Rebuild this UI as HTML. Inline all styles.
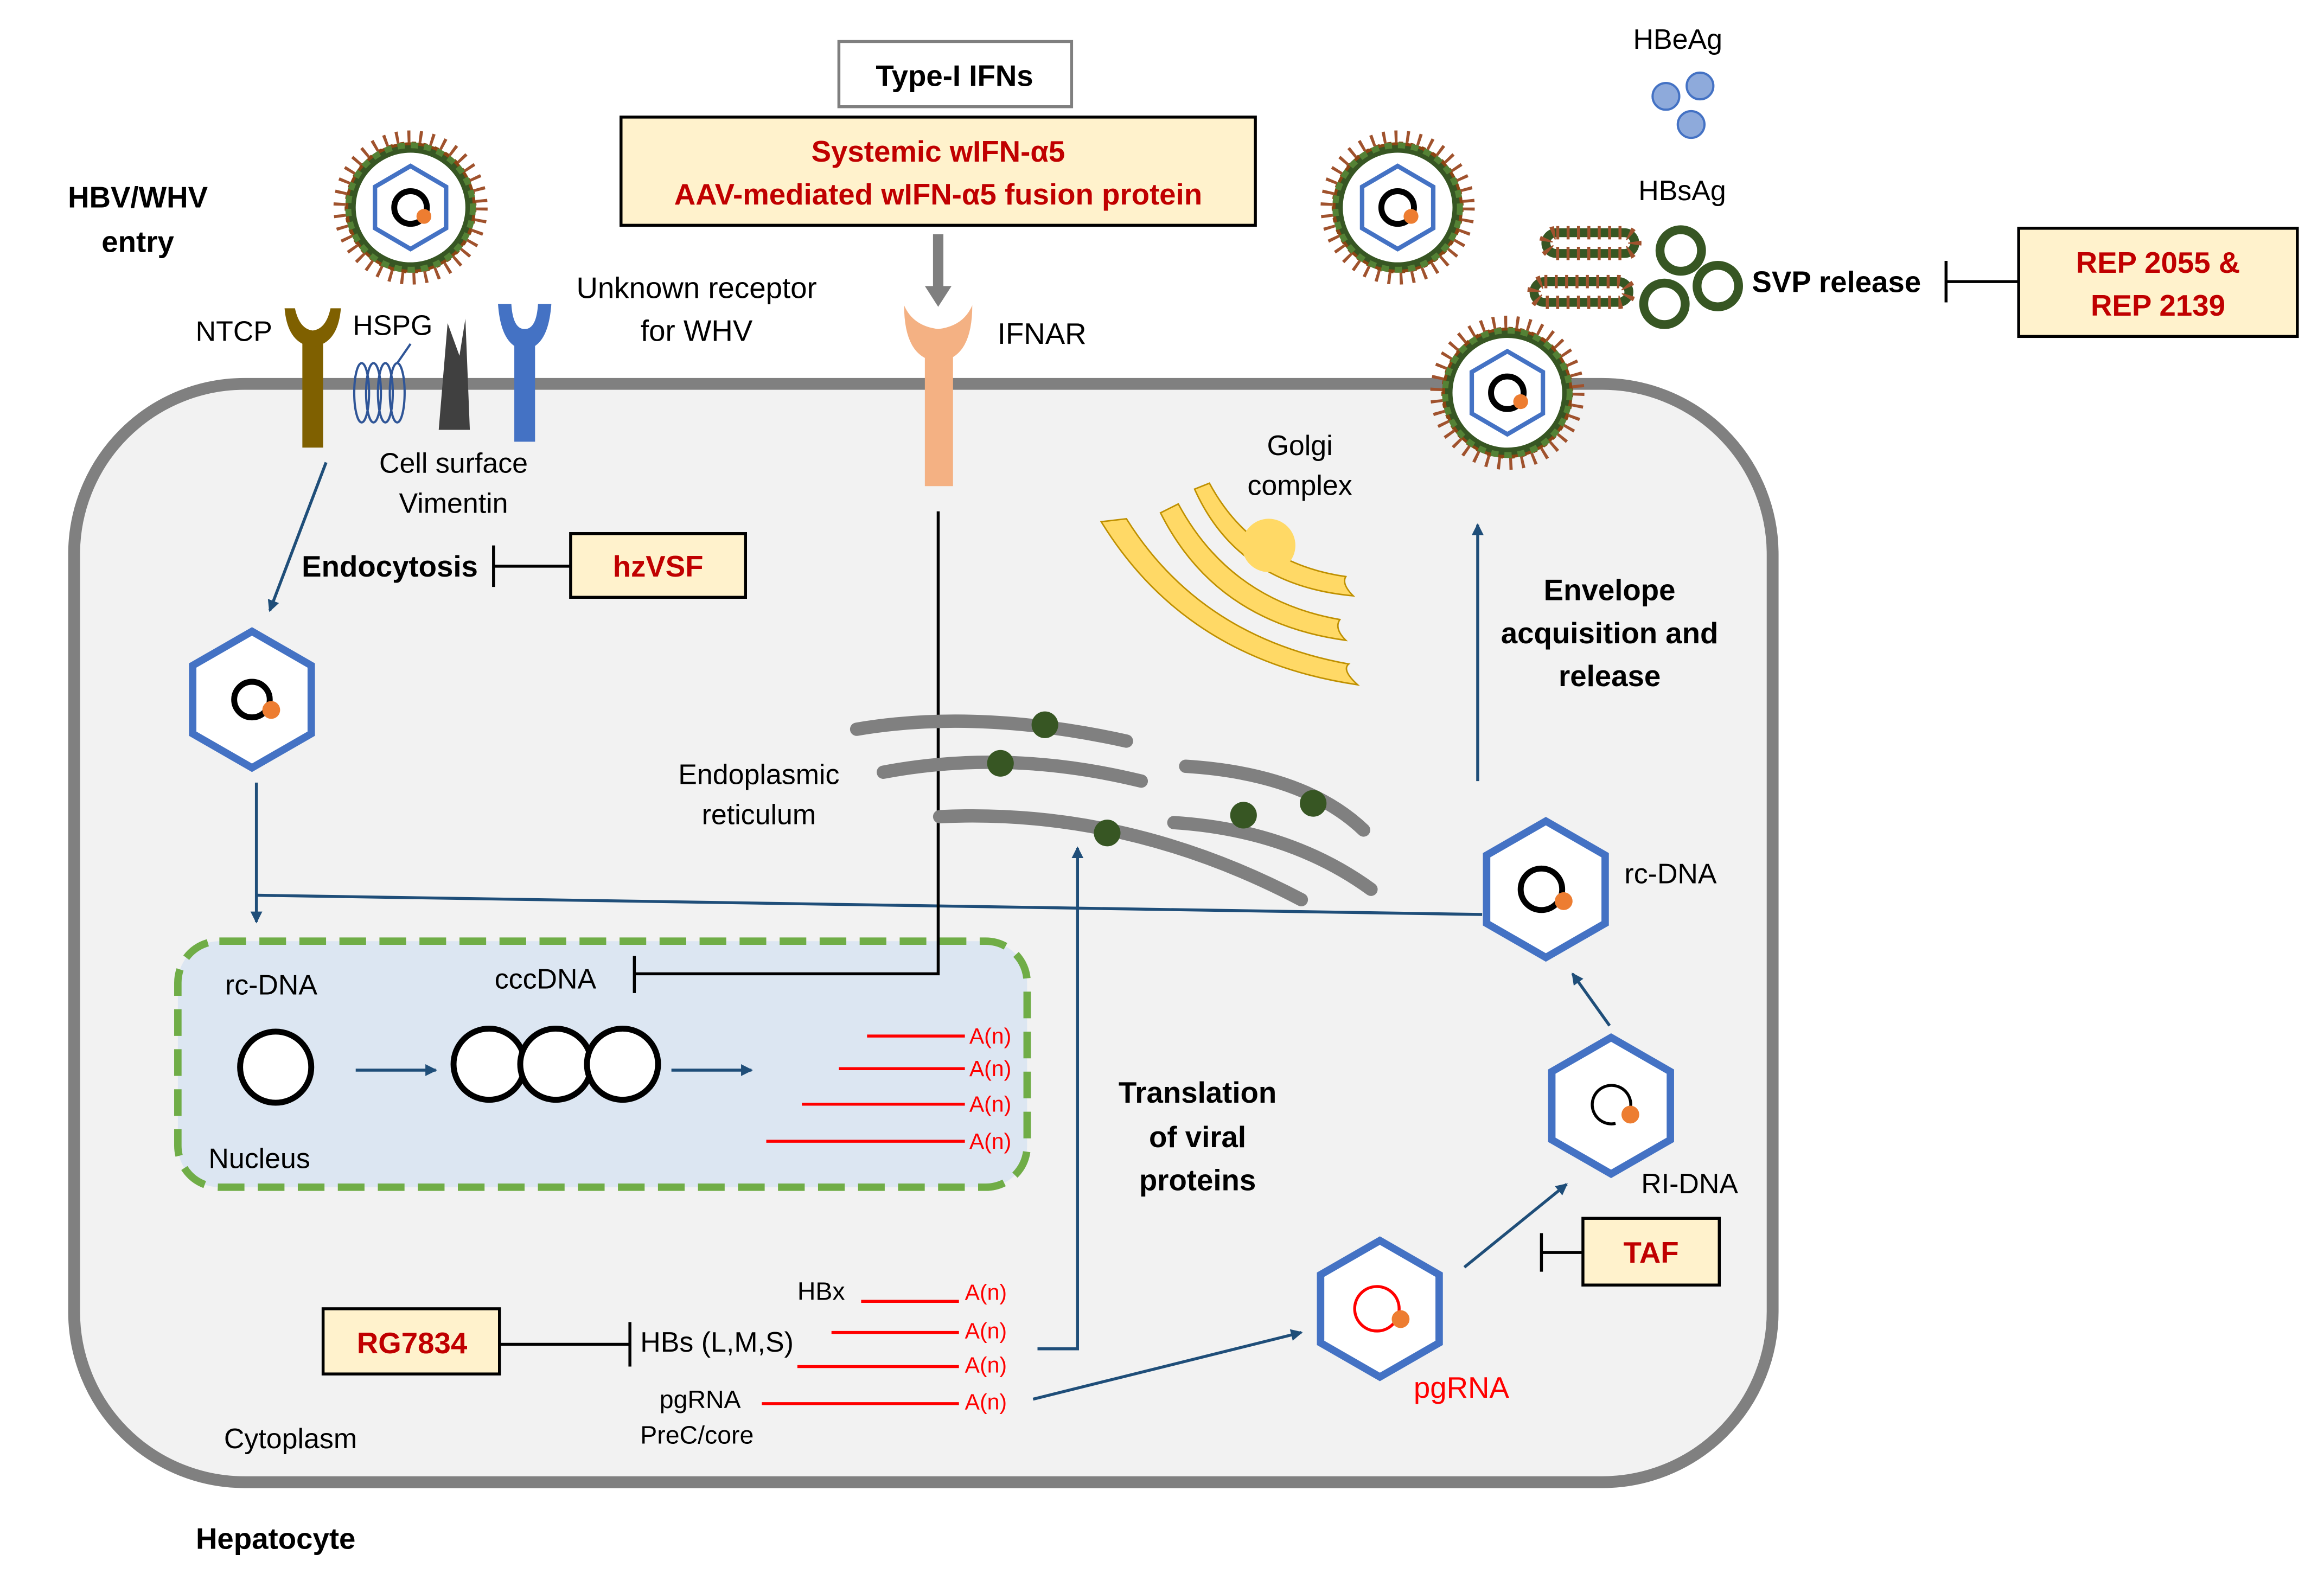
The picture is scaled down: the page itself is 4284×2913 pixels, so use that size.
<!DOCTYPE html>
<html><head><meta charset="utf-8"><style>
html,body{margin:0;padding:0;background:#fff;}
svg{display:block;}
text{font-family:"Liberation Sans",sans-serif;}
</style></head><body>
<svg width="4284" height="2913" viewBox="0 0 1568 1066" preserveAspectRatio="none" xmlns="http://www.w3.org/2000/svg">
<defs>
<marker id="ar" markerWidth="8" markerHeight="8" refX="7" refY="4" orient="auto" markerUnits="userSpaceOnUse"><path d="M0,0 L8,4 L0,8 z" fill="#1f4e79"/></marker>
<g id="vir">
<circle r="44" fill="#8b4513" stroke="#8b4513" stroke-width="1" stroke-dasharray="3 5"/>
<circle r="48" fill="none" stroke="#a0522d" stroke-width="8" stroke-dasharray="2 6"/>
<circle r="42" fill="#375623"/>
<circle r="42" fill="none" stroke="#548235" stroke-width="4" stroke-dasharray="5 4"/>
<circle r="37" fill="#fff"/>
<polygon points="0,-28 24,-14 24,14 0,28 -24,14 -24,-14" fill="#fff" stroke="#4472c4" stroke-width="3"/>
<circle r="11" fill="none" stroke="#000" stroke-width="4"/>
<circle cx="9" cy="6" r="5" fill="#ed7d31"/>
</g>
<g id="hex">
<polygon points="0,-46 40,-23 40,23 0,46 -40,23 -40,-23" fill="#fff" stroke="#4472c4" stroke-width="5"/>
</g>
</defs>
<rect width="1568" height="1066" fill="#fff"/>
<rect x="50" y="259" width="1146" height="741" rx="115" fill="#f2f2f2" stroke="#808080" stroke-width="8"/>
<rect x="120" y="635" width="573" height="166" rx="28" fill="#dce6f2" stroke="#70ad47" stroke-width="5" stroke-dasharray="18 9"/>

<rect x="566" y="28" width="157" height="44" fill="#fff" stroke="#7f7f7f" stroke-width="2"/>
<text x="644" y="58" font-size="20" font-weight="bold" text-anchor="middle">Type-I IFNs</text>
<rect x="419" y="79" width="428" height="73" fill="#fff2cc" stroke="#000" stroke-width="2"/>
<text x="633" y="109" font-size="20" font-weight="bold" fill="#c00000" text-anchor="middle">Systemic wIFN-α5</text>
<text x="633" y="138" font-size="20" font-weight="bold" fill="#c00000" text-anchor="middle">AAV-mediated wIFN-α5 fusion protein</text>
<path d="M633,158 V195" stroke="#7f7f7f" stroke-width="7"/>
<path d="M624,193 L642,193 L633,207 z" fill="#7f7f7f"/>

<rect x="1362" y="154" width="188" height="73" fill="#fff2cc" stroke="#000" stroke-width="2"/>
<text x="1456" y="184" font-size="20" font-weight="bold" fill="#c00000" text-anchor="middle">REP 2055 &amp;</text>
<text x="1456" y="213" font-size="20" font-weight="bold" fill="#c00000" text-anchor="middle">REP 2139</text>
<path d="M1313,190 H1362 M1313,176 V204" stroke="#000" stroke-width="2"/>
<text x="1182" y="197" font-size="20" font-weight="bold">SVP release</text>

<text x="1132" y="33" font-size="19" text-anchor="middle">HBeAg</text>
<circle cx="1124" cy="65" r="9" fill="#8eaadb" stroke="#4472c4" stroke-width="1.5"/>
<circle cx="1147" cy="58" r="9" fill="#8eaadb" stroke="#4472c4" stroke-width="1.5"/>
<circle cx="1141" cy="84" r="9" fill="#8eaadb" stroke="#4472c4" stroke-width="1.5"/>
<text x="1135" y="135" font-size="19" text-anchor="middle">HBsAg</text>
<g stroke-width="6" fill="none">
<rect x="1043" y="157" width="60" height="14" rx="7" stroke="#375623"/>
<rect x="1043" y="157" width="60" height="14" rx="7" stroke="#a0522d" stroke-dasharray="2 5" stroke-width="9"/>
<rect x="1035" y="190" width="64" height="14" rx="7" stroke="#375623"/>
<rect x="1035" y="190" width="64" height="14" rx="7" stroke="#a0522d" stroke-dasharray="2 5" stroke-width="9"/>
<circle cx="1134" cy="169" r="14" stroke="#375623"/>
<circle cx="1159" cy="193" r="14" stroke="#375623"/>
<circle cx="1123" cy="205" r="14" stroke="#375623"/>
</g>

<use href="#vir" x="277" y="140"/>
<use href="#vir" x="943" y="140"/>
<use href="#vir" x="1017" y="265"/>

<text x="93" y="140" font-size="20" font-weight="bold" text-anchor="middle">HBV/WHV</text>
<text x="93" y="170" font-size="20" font-weight="bold" text-anchor="middle">entry</text>
<text x="132" y="230" font-size="19">NTCP</text>
<text x="238" y="226" font-size="19">HSPG</text>
<text x="470" y="201" font-size="20" text-anchor="middle">Unknown receptor</text>
<text x="470" y="230" font-size="20" text-anchor="middle">for WHV</text>
<text x="306" y="319" font-size="19" text-anchor="middle">Cell surface</text>
<text x="306" y="346" font-size="19" text-anchor="middle">Vimentin</text>
<path d="M204,230 H218 V302 H204 z" fill="#7f6000"/>
<path d="M192,208 Q194,232 211,234 Q228,232 230,208 L223,208 Q220,222 211,223 Q202,222 199,208 z" fill="#7f6000"/>
<g fill="none" stroke="#2f5597" stroke-width="1.5">
<ellipse cx="244" cy="265" rx="5" ry="20"/><ellipse cx="252" cy="265" rx="5" ry="20"/><ellipse cx="260" cy="265" rx="5" ry="20"/><ellipse cx="268" cy="265" rx="5" ry="20"/>
<path d="M268,245 L277,232"/>
</g>
<path d="M296,290 L302,218 L310,240 L314,215 L317,290 z" fill="#404040"/>
<path d="M347,232 H361 V298 H347 z" fill="#4472c4"/>
<path d="M336,205 Q338,234 354,236 Q370,234 372,205 L363,205 Q362,222 354,222 Q346,222 345,205 z" fill="#4472c4"/>
<path d="M624,235 H643 V328 H624 z" fill="#f4b183"/>
<path d="M610,206 Q610,242 633,244 Q656,242 656,206 Q650,220 633,222 Q616,220 610,206 z" fill="#f4b183"/>
<text x="673" y="232" font-size="20">IFNAR</text>

<path d="M220,312 L182,412" stroke="#1f4e79" stroke-width="2" marker-end="url(#ar)"/>
<text x="263" y="389" font-size="20" font-weight="bold" text-anchor="middle">Endocytosis</text>
<path d="M333,382 H385 M333,368 V396" stroke="#000" stroke-width="2"/>
<rect x="385" y="360" width="118" height="43" fill="#fff2cc" stroke="#000" stroke-width="2"/>
<text x="444" y="389" font-size="20" font-weight="bold" fill="#c00000" text-anchor="middle">hzVSF</text>

<use href="#hex" x="170" y="472"/>
<circle cx="170" cy="472" r="12" fill="none" stroke="#000" stroke-width="4"/><circle cx="183" cy="479" r="6" fill="#ed7d31"/>
<path d="M173,528 V622" stroke="#1f4e79" stroke-width="2" marker-end="url(#ar)"/>
<path d="M173,604 L1000,617" stroke="#1f4e79" stroke-width="2"/>

<path d="M633,345 V657 H428 M428,645 V670" stroke="#000" stroke-width="2" fill="none"/>

<text x="183" y="671" font-size="19" text-anchor="middle">rc-DNA</text>
<text x="368" y="667" font-size="19" text-anchor="middle">cccDNA</text>
<circle cx="186" cy="720" r="24" fill="#fff" stroke="#000" stroke-width="4"/>
<path d="M240,722 H294" stroke="#1f4e79" stroke-width="2" marker-end="url(#ar)"/>
<circle cx="330" cy="718" r="24" fill="#fff" stroke="#000" stroke-width="4"/>
<circle cx="375" cy="718" r="24" fill="#fff" stroke="#000" stroke-width="4"/>
<circle cx="420" cy="718" r="24" fill="#fff" stroke="#000" stroke-width="4"/>
<path d="M453,722 H507" stroke="#1f4e79" stroke-width="2" marker-end="url(#ar)"/>
<text x="175" y="788" font-size="19" text-anchor="middle">Nucleus</text>
<g stroke="#ff0000" stroke-width="2">
<path d="M585,699 H651 M566,721 H651 M541,745 H651 M517,770 H651"/>
</g>
<g fill="#ff0000" font-size="15">
<text x="654" y="704">A(n)</text><text x="654" y="726">A(n)</text><text x="654" y="750">A(n)</text><text x="654" y="775">A(n)</text>
</g>

<g fill="none" stroke="#808080" stroke-width="9" stroke-linecap="round">
<path d="M578,492 Q660,478 760,500"/>
<path d="M596,521 Q680,505 770,527"/>
<path d="M634,551 Q760,545 878,607"/>
<path d="M800,517 Q880,522 920,560"/>
<path d="M792,555 Q870,560 925,600"/>
</g>
<g fill="#375623"><circle cx="705" cy="489" r="9"/><circle cx="675" cy="515" r="9"/><circle cx="747" cy="562" r="9"/><circle cx="839" cy="550" r="9"/><circle cx="886" cy="542" r="9"/></g>
<text x="512" y="529" font-size="19" text-anchor="middle">Endoplasmic</text>
<text x="512" y="556" font-size="19" text-anchor="middle">reticulum</text>

<g fill="#ffd966" stroke="#bf9000" stroke-width="1">
<path d="M743,352 Q800,445 916,462 Q905,452 910,448 Q810,430 760,350 z"/>
<path d="M783,346 Q820,420 908,432 Q900,424 904,418 Q830,405 795,340 z"/>
<path d="M806,330 Q835,395 913,402 Q905,394 908,389 Q845,380 816,326 z"/>
</g>
<circle cx="856" cy="368" r="18" fill="#ffd966"/>
<text x="877" y="307" font-size="19" text-anchor="middle">Golgi</text>
<text x="877" y="334" font-size="19" text-anchor="middle">complex</text>

<path d="M997,527 V354" stroke="#1f4e79" stroke-width="2" marker-end="url(#ar)"/>
<text x="1086" y="405" font-size="20" font-weight="bold" text-anchor="middle">Envelope</text>
<text x="1086" y="434" font-size="20" font-weight="bold" text-anchor="middle">acquisition  and</text>
<text x="1086" y="463" font-size="20" font-weight="bold" text-anchor="middle">release</text>

<use href="#hex" x="1043" y="600"/>
<circle cx="1040" cy="600" r="14" fill="none" stroke="#000" stroke-width="4"/><circle cx="1055" cy="608" r="6" fill="#ed7d31"/>
<text x="1096" y="596" font-size="19">rc-DNA</text>
<path d="M1086,692 L1061,657" stroke="#1f4e79" stroke-width="2" marker-end="url(#ar)"/>
<use href="#hex" x="1087" y="746"/>
<path d="M1100,748 A13,13 0 1 0 1090,758" fill="none" stroke="#000" stroke-width="2"/><circle cx="1100" cy="752" r="6" fill="#ed7d31"/>
<text x="1140" y="805" font-size="19" text-anchor="middle">RI-DNA</text>
<path d="M988,855 L1057,799" stroke="#1f4e79" stroke-width="2" marker-end="url(#ar)"/>
<path d="M1040,845 H1068 M1040,832 V858" stroke="#000" stroke-width="2"/>
<rect x="1068" y="822" width="92" height="45" fill="#fff2cc" stroke="#000" stroke-width="2"/>
<text x="1114" y="852" font-size="20" font-weight="bold" fill="#c00000" text-anchor="middle">TAF</text>

<use href="#hex" x="931" y="883"/>
<circle cx="929" cy="883" r="15" fill="none" stroke="#ff0000" stroke-width="2"/><circle cx="945" cy="890" r="6" fill="#ed7d31"/>
<text x="986" y="943" font-size="20" fill="#ff0000" text-anchor="middle">pgRNA</text>

<text x="808" y="744" font-size="20" font-weight="bold" text-anchor="middle">Translation</text>
<text x="808" y="774" font-size="20" font-weight="bold" text-anchor="middle">of viral</text>
<text x="808" y="803" font-size="20" font-weight="bold" text-anchor="middle">proteins</text>
<path d="M700,910 H727 V572" stroke="#1f4e79" stroke-width="2" fill="none" marker-end="url(#ar)"/>
<path d="M697,944 L878,899" stroke="#1f4e79" stroke-width="2" marker-end="url(#ar)"/>

<g stroke="#ff0000" stroke-width="2">
<path d="M581,878 H647 M561,899 H647 M538,922 H647 M514,947 H647"/>
</g>
<g fill="#ff0000" font-size="15">
<text x="651" y="877">A(n)</text><text x="651" y="903">A(n)</text><text x="651" y="926">A(n)</text><text x="651" y="951">A(n)</text>
</g>
<text x="538" y="877" font-size="17">HBx</text>
<text x="432" y="912" font-size="19">HBs (L,M,S)</text>
<text x="445" y="950" font-size="17">pgRNA</text>
<text x="432" y="974" font-size="17">PreC/core</text>
<rect x="218" y="883" width="119" height="44" fill="#fff2cc" stroke="#000" stroke-width="2"/>
<text x="278" y="913" font-size="20" font-weight="bold" fill="#c00000" text-anchor="middle">RG7834</text>
<path d="M337,907 H425 M425,892 V922" stroke="#000" stroke-width="2"/>

<text x="196" y="977" font-size="19" text-anchor="middle">Cytoplasm</text>
<text x="186" y="1045" font-size="20" font-weight="bold" text-anchor="middle">Hepatocyte</text>
</svg>
</body></html>
